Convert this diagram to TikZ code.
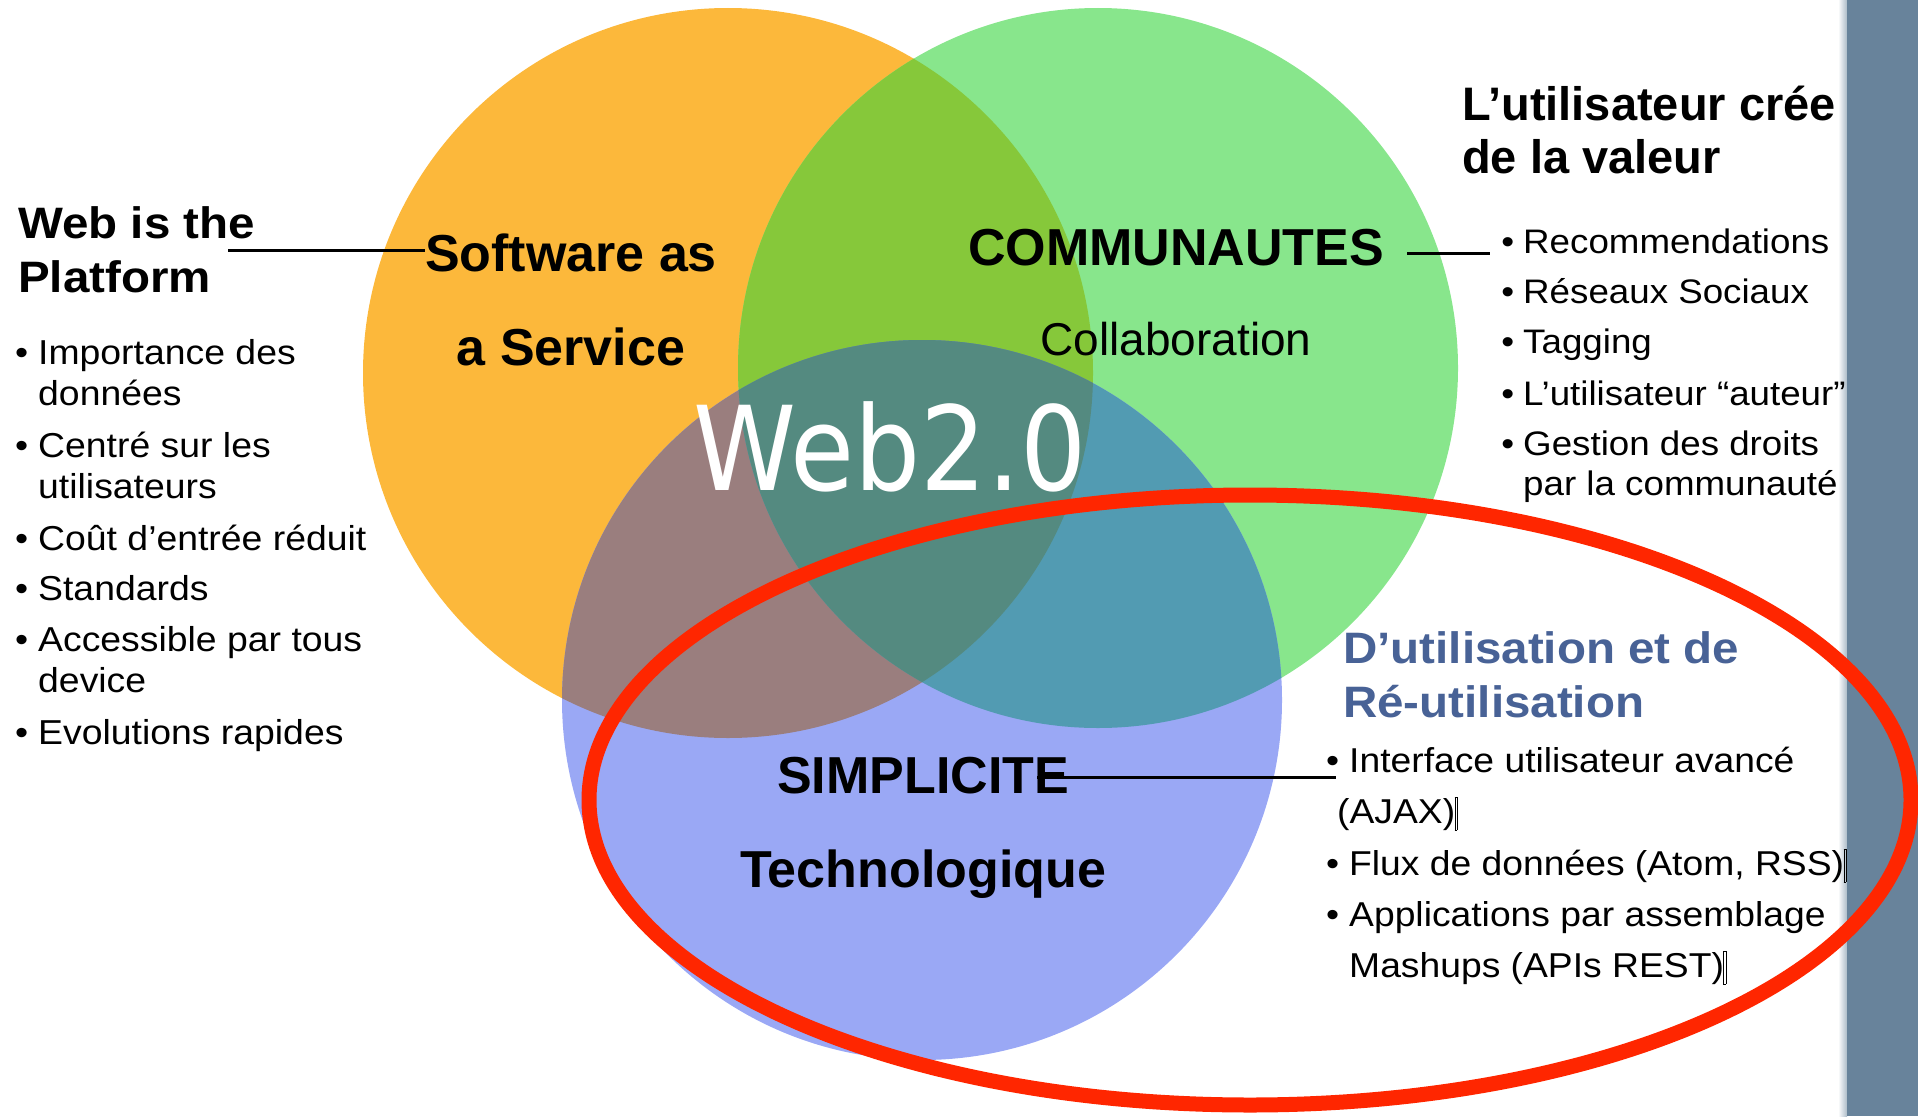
\documentclass[tikz,border=0pt]{standalone}
\usepackage{fontspec}
\setmainfont{Liberation Sans}
\newfontfamily\wideB[FakeStretch=1.08]{Liberation Sans}
\newfontfamily\webfont[FakeStretch=0.89]{DejaVu Sans}

\definecolor{saasorange}{HTML}{FCB83B}
\definecolor{commgreen}{HTML}{88E68C}
\definecolor{simpblue}{HTML}{9AA8F5}
\definecolor{orgreen}{HTML}{86C83A}
\definecolor{orblue}{HTML}{9A7E7E}
\definecolor{grblue}{HTML}{529BB2}
\definecolor{allthree}{HTML}{548A80}
\definecolor{ringred}{HTML}{FF2600}
\definecolor{slidebar}{HTML}{68839B}
\definecolor{reuseblue}{HTML}{486296}

\newcommand{\bul}[1]{\llap{\textbullet\hspace{#1}}}
\newcommand{\tofu}{\kern-0.5pt\raisebox{-0.2em}{\setlength\fboxsep{0pt}\setlength\fboxrule{0.6pt}\fbox{\rule{1.5pt}{0pt}\rule{0pt}{0.95em}}}}

\begin{document}
\begin{tikzpicture}[x=1pt,y=-1pt,
  txt/.style={inner sep=0pt, anchor=base west, align=left},
  tie/.style={line width=3pt}]

\useasboundingbox (0,0) rectangle (1918,1116);

\shade[left color=white, right color=slidebar!55] (1838,0) rectangle (1847,1116);

\fill[slidebar] (1847,0) rectangle (1918,1116);

\fill[saasorange] (728,373) circle (365);

\fill[commgreen] (1098,368) circle (360);

\fill[simpblue] (922,700) circle (360);

\begin{scope}
\clip (728,373) circle (365);
\fill[orgreen] (1098,368) circle (360);
\fill[orblue] (922,700) circle (360);
\end{scope}

\begin{scope}
\clip (1098,368) circle (360);
\fill[grblue] (922,700) circle (360);
\end{scope}

\begin{scope}
\clip (728,373) circle (365);
\clip (1098,368) circle (360);
\fill[allthree] (922,700) circle (360);
\end{scope}

\draw[line width=15pt, ringred] (1250,800) ellipse [x radius=661, y radius=305];

\node[txt, font=\wideB\bfseries\fontsize{44}{54}\selectfont] (platform) at (18,292) {Web is the\\Platform};

\node[txt, font=\wideB\fontsize{34.6}{41}\selectfont] (importance) at (38,405) {\bul{10pt}Importance des\\données};
\node[txt, font=\wideB\fontsize{34.6}{41}\selectfont] (centre) at (38,498) {\bul{10pt}Centré sur les\\utilisateurs};
\node[txt, font=\wideB\fontsize{34.6}{41}\selectfont] (cout) at (38,550) {\bul{10pt}Coût d’entrée réduit};
\node[txt, font=\wideB\fontsize{34.6}{41}\selectfont] (standards) at (38,600) {\bul{10pt}Standards};
\node[txt, font=\wideB\fontsize{34.6}{41}\selectfont] (device) at (38,692) {\bul{10pt}Accessible par tous\\device};
\node[txt, font=\wideB\fontsize{34.6}{41}\selectfont] (evolutions) at (38,744) {\bul{10pt}Evolutions rapides};

\node[inner sep=0pt, anchor=base, align=center, font=\bfseries\fontsize{52}{94}\selectfont] (saas) at (571,365) {Software as\\a Service};

\node[inner sep=0pt, anchor=base, font=\bfseries\fontsize{52}{60}\selectfont] (commu) at (1176,265) {COMMUNAUTES};

\node[inner sep=0pt, anchor=base, font=\fontsize{46}{54}\selectfont] (collab) at (1176,355) {Collaboration};

\node[inner sep=0pt, anchor=base, text=white, font=\webfont\fontsize{117}{117}\selectfont] (web) at (890,490) {Web2.0};

\node[inner sep=0pt, anchor=base, align=center, font=\bfseries\fontsize{52}{94}\selectfont] (simp) at (923,887) {SIMPLICITE\\Technologique};

\node[txt, font=\bfseries\fontsize{47}{53}\selectfont] (valeur) at (1462,173) {L’utilisateur crée\\de la valeur};

\node[txt, font=\wideB\fontsize{34}{40}\selectfont] (reco) at (1523,253) {\bul{9pt}Recommendations};
\node[txt, font=\wideB\fontsize{34}{40}\selectfont] (reseaux) at (1523,303) {\bul{9pt}Réseaux Sociaux};
\node[txt, font=\wideB\fontsize{34}{40}\selectfont] (tagging) at (1523,353) {\bul{9pt}Tagging};
\node[txt, font=\wideB\fontsize{34}{40}\selectfont] (auteur) at (1523,405) {\bul{9pt}L’utilisateur “auteur”};
\node[txt, font=\wideB\fontsize{34}{40}\selectfont] (droits) at (1523,495) {\bul{9pt}Gestion des droits\\par la communauté};

\node[txt, text=reuseblue, font=\wideB\bfseries\fontsize{44}{54}\selectfont] (reuse) at (1343,717) {D’utilisation et de\\Ré-utilisation};

\node[txt, font=\wideB\fontsize{34.5}{51}\selectfont] (ajax) at (1349,823) {\bul{10pt}Interface utilisateur avancé\\\hspace{-12pt}(AJAX)\tofu};
\node[txt, font=\wideB\fontsize{34.5}{51}\selectfont] (flux) at (1349,875) {\bul{10pt}Flux de données (Atom, RSS)\tofu};
\node[txt, font=\wideB\fontsize{34.5}{51}\selectfont] (mashups) at (1349,977) {\bul{10pt}Applications par assemblage\\Mashups (APIs REST)\tofu};

\draw[tie] ([xshift=210pt,yshift=42pt]platform.base west) -- (saas.west |- {(0,250)});

\draw[tie] ([xshift=23pt,yshift=12pt]commu.base east) -- ([xshift=-33pt,yshift=12pt]commu.base east -| reco.base west);

\draw[tie] ([xshift=114pt,yshift=110pt]simp.base) -- ([xshift=-13pt,yshift=46pt]ajax.base west);

\end{tikzpicture}
\end{document}
